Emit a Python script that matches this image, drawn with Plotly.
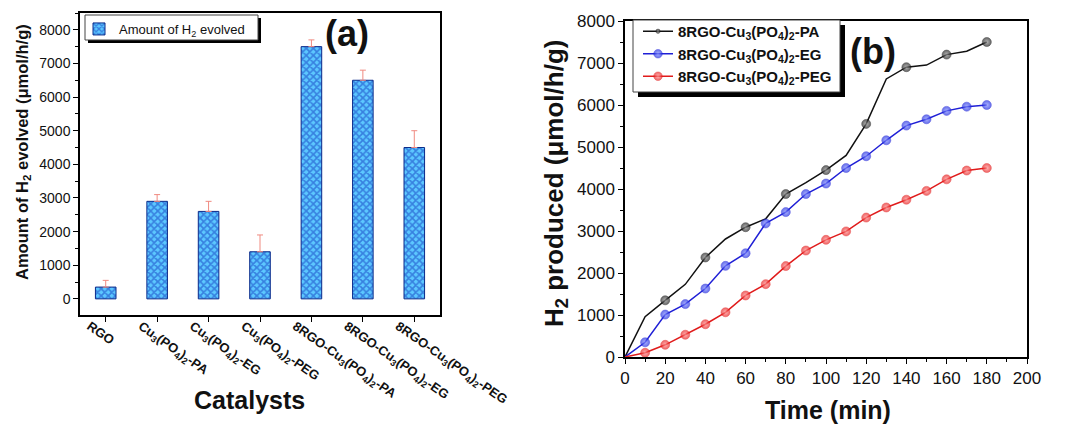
import plotly.graph_objects as go

# ---------------- data ----------------
catalysts = ["RGO",
             "Cu<sub>3</sub>(PO<sub>4</sub>)<sub>2</sub>-PA",
             "Cu<sub>3</sub>(PO<sub>4</sub>)<sub>2</sub>-EG",
             "Cu<sub>3</sub>(PO<sub>4</sub>)<sub>2</sub>-PEG",
             "8RGO-Cu<sub>3</sub>(PO<sub>4</sub>)<sub>2</sub>-PA",
             "8RGO-Cu<sub>3</sub>(PO<sub>4</sub>)<sub>2</sub>-EG",
             "8RGO-Cu<sub>3</sub>(PO<sub>4</sub>)<sub>2</sub>-PEG"]
h2_evolved = [350, 2900, 2600, 1400, 7500, 6500, 4500]
h2_error = [200, 200, 300, 500, 200, 300, 500]

time_min = [0, 10, 20, 30, 40, 50, 60, 70, 80, 90, 100, 110, 120, 130, 140, 150, 160, 170, 180]
pa_series = [0, 960, 1350, 1730, 2370, 2810, 3090, 3290, 3880, 4150, 4450, 4800, 5550, 6620, 6900, 6950, 7200, 7280, 7500]
eg_series = [0, 350, 1010, 1260, 1630, 2170, 2470, 3180, 3450, 3880, 4130, 4500, 4780, 5160, 5510, 5660, 5860, 5960, 6000]
peg_series = [0, 100, 290, 530, 780, 1065, 1465, 1735, 2165, 2535, 2790, 2990, 3320, 3560, 3745, 3955, 4230, 4440, 4500]

line_names = ["8RGO-Cu<sub>3</sub>(PO<sub>4</sub>)<sub>2</sub>-PA",
              "8RGO-Cu<sub>3</sub>(PO<sub>4</sub>)<sub>2</sub>-EG",
              "8RGO-Cu<sub>3</sub>(PO<sub>4</sub>)<sub>2</sub>-PEG"]

W, H = 1067, 424
FONT = "Arial, Liberation Sans, sans-serif"

def px_x(p):
    return p / W

def px_y(p):
    return 1 - p / H

fig = go.Figure()

# ---------------- panel (a) ----------------
fig.add_trace(go.Bar(
    x=catalysts, y=h2_evolved, width=0.4,
    name="Amount of H<sub>2</sub> evolved",
    marker=dict(color="#2f8cf0",
                line=dict(color="#0a2a8a", width=1),
                pattern=dict(shape="x", fgcolor="#1238c0", bgcolor="#5cc8ff",
                             size=5, solidity=0.55)),
    error_y=dict(type="data", array=h2_error, arrayminus=[0] * len(h2_error),
                 symmetric=False, color="#f08a80", thickness=1, width=3),
    xaxis="x", yaxis="y", legend="legend",
))

# ---------------- panel (b) ----------------
colors = ["#111111", "#1f1fd6", "#e01b1b"]
marker_colors = ["#222222", "#2230e0", "#e82020"]
highlight = ["#9a9a9a", "#8c95ff", "#ff9a9a"]
series = [pa_series, eg_series, peg_series]
for i, (name, ys) in enumerate(zip(line_names, series)):
    if i == 0:
        sizes = [9 if t % 20 == 0 and t > 0 else 0 for t in time_min]
    else:
        sizes = [9 if t > 0 else 0 for t in time_min]
    fig.add_trace(go.Scatter(
        x=time_min, y=ys, mode="lines+markers", name=name,
        line=dict(color=colors[i], width=1.5),
        marker=dict(color=marker_colors[i], size=sizes, symbol="circle",
                    gradient=dict(type="radial", color=highlight[i]),
                    line=dict(color=colors[i], width=0.6)),
        xaxis="x2", yaxis="y2", legend="legend2",
    ))

axis_common = dict(showline=True, linecolor="black", linewidth=1.5, mirror=True,
                   ticks="outside", tickcolor="black", ticklen=5, tickwidth=1.2,
                   showgrid=False, zeroline=False, automargin=False)

fig.update_layout(
    width=W, height=H,
    margin=dict(l=0, r=0, t=0, b=0, autoexpand=False),
    paper_bgcolor="white", plot_bgcolor="white",
    font=dict(family=FONT, color="#111"),
    xaxis=dict(domain=[px_x(80), px_x(440)], anchor="y", type="category",
               range=[-0.5, 6.5], tickangle=35,
               ticklabelshift=-16, ticklabelstandoff=-8,
               tickfont=dict(family=FONT, size=13, color="#111", weight="bold"),
               **axis_common),
    yaxis=dict(domain=[px_y(315), px_y(13)], anchor="x", range=[-480, 8500],
               dtick=1000, tick0=0,
               minor=dict(dtick=500, ticks="outside", ticklen=3, tickcolor="black"),
               tickfont=dict(family=FONT, size=14, color="#111"),
               **axis_common),
    xaxis2=dict(domain=[px_x(625), px_x(1027)], anchor="y2", range=[0, 200],
                dtick=20, tick0=0,
                minor=dict(dtick=10, ticks="outside", ticklen=3, tickcolor="black"),
                tickfont=dict(family=FONT, size=17, color="#111"),
                **axis_common),
    yaxis2=dict(domain=[px_y(357), px_y(21)], anchor="x2", range=[0, 8000],
                dtick=1000, tick0=0,
                minor=dict(dtick=500, ticks="outside", ticklen=3, tickcolor="black"),
                tickfont=dict(family=FONT, size=17, color="#111"),
                **axis_common),
    legend=dict(x=px_x(79), y=px_y(14), xanchor="left", yanchor="top",
                bgcolor="rgba(0,0,0,0)", borderwidth=0,
                font=dict(family=FONT, size=13, color="#111"),
                itemwidth=30, tracegroupgap=0),
    legend2=dict(x=px_x(638), y=px_y(15), xanchor="left", yanchor="top",
                 bgcolor="rgba(0,0,0,0)", borderwidth=0,
                 font=dict(family=FONT, size=15, color="#111", weight="bold"),
                 itemwidth=30, tracegroupgap=0),
    showlegend=True,
)

# legend frames with drop shadow
shapes = []
def framed_box(x0, y0, x1, y1, off):
    shapes.append(dict(type="rect", xref="paper", yref="paper",
                       x0=px_x(x0 + off), x1=px_x(x1 + off), y0=px_y(y1 + off), y1=px_y(y0 + off),
                       fillcolor="black", line=dict(width=0), layer="above"))
    shapes.append(dict(type="rect", xref="paper", yref="paper",
                       x0=px_x(x0), x1=px_x(x1), y0=px_y(y1), y1=px_y(y0),
                       fillcolor="white", line=dict(color="#444", width=1), layer="above"))

framed_box(85, 15, 258, 40, 3)
framed_box(633, 20, 840, 92, 5)
fig.update_layout(shapes=shapes)

def ann(text, x, y, size, angle=0):
    return dict(text=text, x=px_x(x), y=px_y(y), xref="paper", yref="paper",
                xanchor="center", yanchor="middle", showarrow=False, textangle=angle,
                font=dict(family=FONT, size=size, color="#111"))

annotations = [
    ann("<b>(a)</b>", 347, 33, 36),
    ann("<b>(b)</b>", 873, 52, 36),
    ann("<b>Amount of H<sub>2</sub> evolved (μmol/h/g)</b>", 23, 152, 16.5, -90),
    ann("<b>Catalysts</b>", 249, 400, 25),
    ann("<b>H<sub>2</sub> produced (μmol/h/g)</b>", 555, 184, 26, -90),
    ann("<b>Time (min)</b>", 828, 410, 25),
]
fig.update_layout(annotations=annotations)

fig.write_html("out.html",
               config={"displayModeBar": False},
               post_script="document.body.style.margin='0';document.body.style.padding='0';")
